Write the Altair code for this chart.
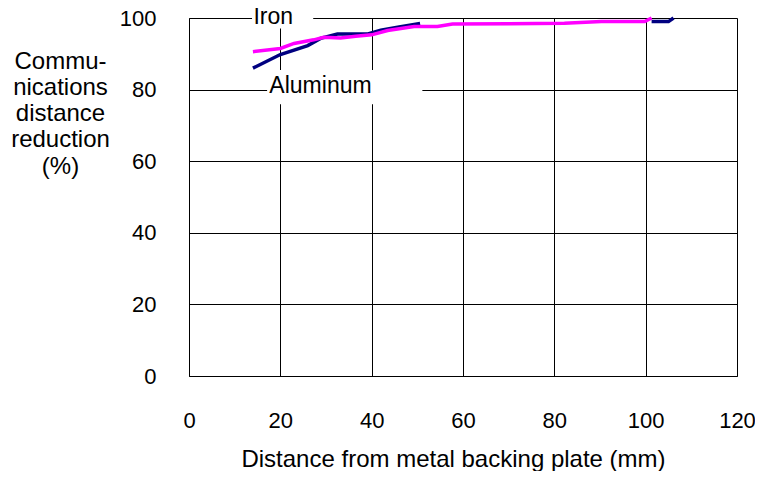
import altair as alt
import pandas as pd

# Iron (navy) – visible first segment and end segment
iron_x1 = [14, 20, 26, 28.8, 32.5, 39, 42, 46, 50.6]
iron_y1 = [86.0, 89.8, 92.3, 94.3, 95.5, 95.5, 96.6, 97.5, 98.5]
iron_x2 = [101.3, 105.0, 106.1]
iron_y2 = [99.0, 99.0, 100.0]

# Aluminum (magenta)
alu_x = [14, 20, 23, 27.3, 29.5, 33.2, 36.5, 40, 43.5, 49.3, 54.4, 57.7, 70, 82.2, 90.3, 99.8, 101.3]
alu_y = [90.6, 91.5, 92.9, 93.9, 94.6, 94.4, 94.9, 95.3, 96.5, 97.6, 97.6, 98.3, 98.4, 98.5, 99.0, 99.0, 100.0]

# annotation labels (data coordinates)
ann_text = ["Iron", "Aluminum"]
ann_x = [14.1, 17.6]
ann_y = [98.3, 79.0]
# white label boxes (data coordinates)
box_x = [13.8, 17.1]
box_x2 = [27.2, 51.1]
box_y = [97.1, 75.9]
box_y2 = [105.0, 85.5]

x_ticks = [0, 20, 40, 60, 80, 100, 120]
y_ticks = [0, 20, 40, 60, 80, 100]

rows = []
for x, y in zip(iron_x1, iron_y1):
    rows.append({"x": x, "y": y, "series": "Iron", "seg": "Iron-a"})
for x, y in zip(iron_x2, iron_y2):
    rows.append({"x": x, "y": y, "series": "Iron", "seg": "Iron-b"})
iron_df = pd.DataFrame(rows)
alu_df = pd.DataFrame({"x": alu_x, "y": alu_y})
ann_df = pd.DataFrame({"t": ann_text, "x": ann_x, "y": ann_y})
box_df = pd.DataFrame({"x": box_x, "x2": box_x2, "y": box_y, "y2": box_y2})

FONT = "Liberation Sans"

xscale = alt.Scale(domain=[0, 120], nice=False, zero=False)
yscale = alt.Scale(domain=[0, 100], nice=False, zero=False)

xaxis = alt.Axis(
    values=x_ticks, grid=True, gridColor="black", gridOpacity=1, gridWidth=1,
    ticks=False, domainColor="black", domainWidth=1,
    labelFontSize=22, labelFont=FONT, labelColor="black", labelPadding=34,
    labelFlush=False,
    title="Distance from metal backing plate (mm)", titleFont=FONT,
    titleFontSize=24, titleFontWeight="normal", titleColor="black",
    titleX=264, titleY=90, titleAlign="center", titleBaseline="alphabetic",
)
yaxis = alt.Axis(
    values=y_ticks, grid=True, gridColor="black", gridOpacity=1, gridWidth=1,
    ticks=False, domainColor="black", domainWidth=1,
    labelFontSize=22, labelFont=FONT, labelColor="black", labelPadding=33,
    labelFlush=False,
    title=["Commu-", "nications", "distance", "reduction", "(%)"],
    titleFont=FONT, titleFontSize=24, titleFontWeight="normal", titleColor="black",
    titleAngle=0, titleX=-129, titleY=50, titleAlign="center",
    titleBaseline="alphabetic", titleLineHeight=26.3,
)

base_x = alt.X("x:Q", scale=xscale, axis=xaxis)
base_y = alt.Y("y:Q", scale=yscale, axis=yaxis)

boxes = alt.Chart(box_df).mark_rect(color="white", clip=False).encode(
    x=alt.X("x:Q", scale=xscale, axis=xaxis),
    x2="x2:Q",
    y=alt.Y("y:Q", scale=yscale, axis=yaxis),
    y2="y2:Q",
)

iron = alt.Chart(iron_df).mark_line(color="#000080", strokeWidth=3.5, clip=False).encode(
    x=base_x, y=base_y, detail="seg:N", order="x:Q"
)
alu = alt.Chart(alu_df).mark_line(color="#FF00FF", strokeWidth=3.5, clip=False).encode(
    x=base_x, y=base_y, order="x:Q"
)
labels = alt.Chart(ann_df).mark_text(
    align="left", baseline="alphabetic", fontSize=23, font=FONT, color="black"
).encode(x=base_x, y=base_y, text="t:N")

chart = alt.layer(boxes, iron, alu, labels).properties(
    width=548, height=358,
    autosize=alt.AutoSizeParams(type="none"),
    padding={"left": 181, "top": 10, "right": 18, "bottom": 95},
).configure_view(stroke=None).configure(background="white")

chart.save("out.html", embed_options={"renderer": "svg", "actions": False})
